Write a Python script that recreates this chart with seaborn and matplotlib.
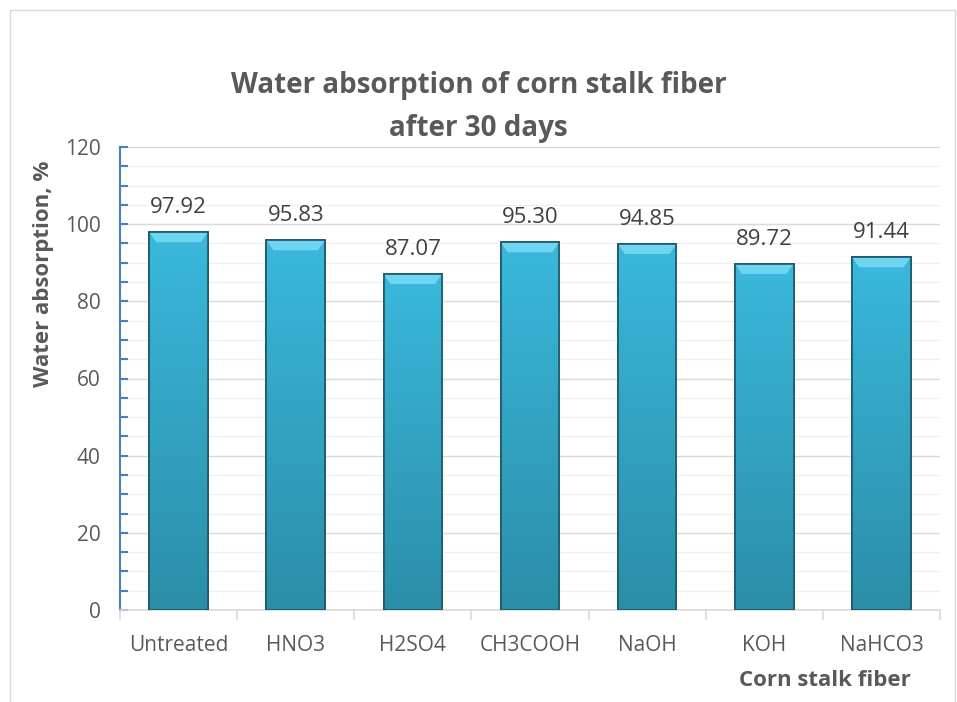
import matplotlib
matplotlib.use("Agg")
import matplotlib.pyplot as plt
import seaborn as sns
import pandas as pd
import numpy as np
from matplotlib.ticker import MultipleLocator
from matplotlib.patches import Rectangle, Polygon
from matplotlib.colors import LinearSegmentedColormap

treatments = ["Untreated", "HNO3", "H2SO4", "CH3COOH", "NaOH", "KOH", "NaHCO3"]
absorption = [97.92, 95.83, 87.07, 95.30, 94.85, 89.72, 91.44]

df = pd.DataFrame({"Treatment": treatments, "Absorption": absorption})

sns.set_theme(style="white")
plt.rcParams["font.family"] = ["Open Sans", "DejaVu Sans"]

fig = plt.figure(figsize=(9.57, 7.02), dpi=100)
ax = fig.add_axes([120 / 957, 1 - 610 / 702, 820 / 957, 463 / 702])

sns.barplot(data=df, x="Treatment", y="Absorption", color="#35B2D4",
            width=0.5, edgecolor="#1D5866", linewidth=1.2, saturation=1, ax=ax, zorder=3)

ax.set_ylim(0, 120)
ax.set_xlim(-0.5, len(treatments) - 0.5)

# vertical gradient + bevel cap on each bar
grad = LinearSegmentedColormap.from_list("bar", ["#2B8EA8", "#3AB8DB"])
gimg = np.linspace(0, 1, 256).reshape(-1, 1)
for bar in list(ax.patches):
    x0, w, h = bar.get_x(), bar.get_width(), bar.get_height()
    im = ax.imshow(gimg, cmap=grad, origin="lower", aspect="auto",
                   extent=[x0, x0 + w, 0, h], zorder=3.5)
    im.set_clip_path(bar)
    cap = 2.6
    ax.add_patch(Polygon([[x0, h], [x0 + w, h], [x0 + w - 0.06, h - cap], [x0 + 0.06, h - cap]],
                         closed=True, facecolor="#6FD6F2", edgecolor="none", zorder=3.6))
    ax.add_patch(Rectangle((x0, 0), w, h, fill=False, edgecolor="#1D5866", linewidth=1.2, zorder=3.7))

for bar, val in zip(ax.patches[:len(absorption)], absorption):
    ax.annotate(f"{val:.2f}", (bar.get_x() + bar.get_width() / 2, bar.get_height()),
                xytext=(0, 10), textcoords="offset points", ha="center", va="bottom",
                fontsize=16, color="#404040", zorder=5)

ax.yaxis.set_major_locator(MultipleLocator(20))
ax.yaxis.set_minor_locator(MultipleLocator(5))
ax.grid(axis="y", which="major", color="#D9D9D9", linewidth=1.0, zorder=0)
ax.grid(axis="y", which="minor", color="#EFEFEF", linewidth=0.9, zorder=0)
ax.set_axisbelow(True)

for s in ["top", "right"]:
    ax.spines[s].set_visible(False)
ax.spines["left"].set_color("#4A7EC0")
ax.spines["left"].set_linewidth(1.5)
ax.spines["bottom"].set_color("#D9D9D9")
ax.spines["bottom"].set_linewidth(1.2)

ax.tick_params(axis="y", which="both", left=True, direction="in", color="#4A7EC0",
               width=1.5, length=6, labelsize=15, labelcolor="#595959", pad=14)
ax.set_xticks([i + 0.5 for i in range(-1, len(treatments))], minor=True)
ax.tick_params(axis="x", which="major", bottom=False, labelsize=15, labelcolor="#595959", pad=12)
ax.tick_params(axis="x", which="minor", bottom=True, length=7, color="#D9D9D9", width=1.2)

ax.set_xlabel("Corn stalk fiber", fontsize=16, fontweight="bold", color="#595959")
ax.xaxis.set_label_coords((825 - 120) / 820, -0.13)
ax.set_ylabel("Water absorption, %", fontsize=16, fontweight="bold", color="#595959")
ax.yaxis.set_label_coords(-0.08, 0.726)

fig.text(0.5, 1 - 107 / 702, "Water absorption of corn stalk fiber\nafter 30 days",
         ha="center", va="center", fontsize=20, fontweight="bold", color="#595959",
         linespacing=1.6)

fig.patches.append(Rectangle((10 / 957, -0.01), 945 / 957, 1 - 10 / 702 + 0.01,
                             transform=fig.transFigure, fill=False,
                             edgecolor="#D9D9D9", linewidth=1.0))

fig.savefig("out.png", dpi=100)
